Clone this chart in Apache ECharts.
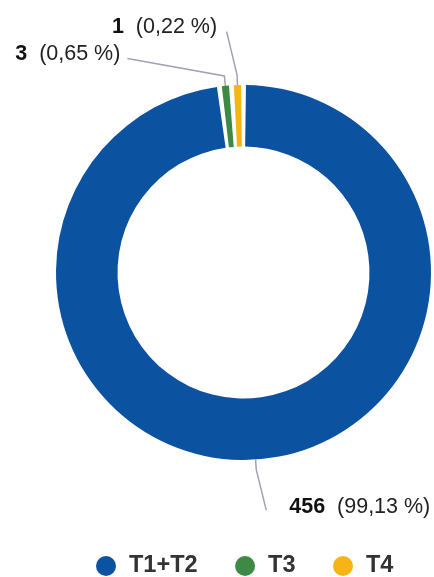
<!DOCTYPE html>
<html>
<head>
<meta charset="utf-8">
<script src="https://cdn.jsdelivr.net/npm/echarts@6/dist/echarts.min.js"></script>
<style>
html,body{margin:0;padding:0;background:#fff;}
#chart{width:434px;height:577px;}
</style>
</head>
<body>
<div id="chart"></div>
<script>
// Data
const categories = ['T1+T2', 'T3', 'T4'];
const values = [456, 3, 1];
const colors = ['#0b53a1', '#3c8a45', '#f8b415'];

// Label placement relative to the library's label-line bend point (positions only)
const labelOffsets = [
  { dx: 33, dy: 37.5, align: 'left', lx: -23, ly: 3 },
  { dx: -104, dy: -21.5, align: 'right', lx: 7, ly: 4 },
  { dx: -20, dy: -48.5, align: 'right', lx: 9.5, ly: 5 }
];

const FONT = '"Liberation Sans", Arial, Helvetica, sans-serif';
const chart = echarts.init(document.getElementById('chart'), null, { renderer: 'canvas' });

const seriesData = categories.map((c, i) => ({
  name: c,
  value: values[i],
  itemStyle: { color: colors[i] }
}));

const option = {
  animation: false,
  backgroundColor: '#ffffff',
  legend: {
    data: categories,
    left: 91,
    top: 549,
    icon: 'circle',
    itemWidth: 36,
    itemHeight: 20,
    itemGap: 37.5,
    textStyle: {
      fontFamily: FONT,
      fontSize: 23.5,
      fontWeight: 'bold',
      color: '#333333'
    }
  },
  series: [{
    type: 'pie',
    center: [243.5, 272.5],
    radius: [126, 187.5],
    startAngle: 90,
    clockwise: true,
    padAngle: 1.5,
    minAngle: 2.2,
    avoidLabelOverlap: false,
    data: seriesData,
    label: {
      show: true,
      position: 'outside',
      fontFamily: FONT,
      fontSize: 21.5,
      color: '#222222',
      formatter: function (p) {
        const pct = p.percent.toFixed(2).replace('.', ',');
        return '{b|' + p.value + '}  {p|(' + pct + ' %)}';
      },
      rich: {
        b: { fontFamily: FONT, fontSize: 21.5, fontWeight: 'bold', color: '#111111' },
        p: { fontFamily: FONT, fontSize: 21.5, color: '#222222' }
      }
    },
    labelLine: {
      show: true,
      length: 10,
      length2: 4,
      lineStyle: { color: '#a2a2b3', width: 1.5 }
    },
    labelLayout: function (params) {
      const o = labelOffsets[params.dataIndex];
      const pts = params.labelLinePoints;
      if (!pts) return {};
      const x = pts[1][0] + o.dx;
      const y = pts[1][1] + o.dy;
      return {
        x: x,
        y: y,
        align: o.align,
        verticalAlign: 'middle',
        labelLinePoints: [pts[0], pts[1], [x + o.lx, y + o.ly]]
      };
    },
    emphasis: { disabled: true }
  }]
};

chart.setOption(option);
</script>
</body>
</html>
